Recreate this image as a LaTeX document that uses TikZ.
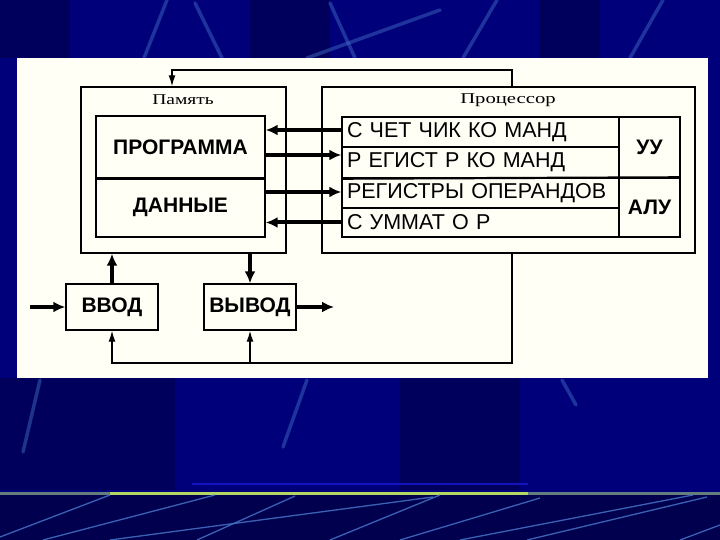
\documentclass[tikz,border=0pt]{standalone}
\usepackage{fontspec}
\setmainfont{Liberation Sans}
\newfontfamily\serifcyr{Liberation Serif}
\usetikzlibrary{arrows.meta}
\definecolor{navy}{RGB}{0,0,122}
\definecolor{navydark}{RGB}{0,0,92}
\definecolor{navybottom}{RGB}{0,0,78}
\definecolor{streak}{RGB}{70,115,200}
\definecolor{cream}{RGB}{255,255,246}
\definecolor{lime}{RGB}{180,215,100}
\definecolor{limegrey}{RGB}{100,125,125}
\definecolor{bluebar}{RGB}{20,20,190}
\begin{document}
\begin{tikzpicture}[x=1pt,y=-1pt,
  box/.style={draw=black, line width=1.4pt, inner sep=0pt, anchor=center},
  rowbox/.style={box, minimum height=#1, text width=267pt, inner xsep=5pt, align=left,
     font=\fontsize{21.5}{21.5}\selectfont},
  boldtxt/.style={font=\fontsize{21}{21}\selectfont\bfseries},
  bigarr/.style={line width=4pt, -{Latex[length=12pt,width=11pt]}},
  thinarr/.style={line width=1.4pt, -{Latex[length=11pt,width=7pt]}},
  title/.style={font=\serifcyr\fontsize{15}{15}\selectfont},
  streakline/.style={streak, line width=3.5pt, opacity=0.45, line cap=round},
  diag/.style={streak, line width=1.3pt, opacity=0.85}
]
\useasboundingbox (0,0) rectangle (720,540);
% background
\fill[navy] (0,0) rectangle (720,540);
\fill[navydark] (0,0) rectangle (70,58);
\fill[navydark] (250,0) rectangle (330,58);
\fill[navydark] (540,0) rectangle (600,58);
\fill[navydark] (0,378) rectangle (175,490);
\fill[navydark] (400,378) rectangle (520,490);
\fill[navybottom] (0,494) rectangle (720,540);
% top streaks
\draw[streakline] (144,58) -- (167,0);
\draw[streakline] (222,58) -- (195,3);
\draw[streakline] (330,3) -- (355,58);
\draw[streakline] (307,58) -- (440,10);
\draw[streakline] (463,58) -- (497,0);
\draw[streakline] (630,58) -- (663,0);
% lower streaks
\draw[streakline] (40,380) -- (23,452);
\draw[streakline] (307,380) -- (283,447);
\draw[streakline] (562,380) -- (576,405);
% green line
\draw[bluebar, line width=2pt] (192,484) -- (528,484);
\draw[limegrey, line width=3pt] (0,493) -- (720,493);
\draw[lime, line width=3pt] (110,493) -- (528,493);
% bottom diagonals
\draw[diag] (0,537) -- (110,495);
\draw[diag] (43,540) -- (215,495);
\draw[diag] (110,540) -- (433,497);
\draw[diag] (197,540) -- (295,496);
\draw[diag] (330,540) -- (440,495);
\draw[diag] (400,540) -- (540,498);
\draw[diag] (460,540) -- (693,495);
\draw[diag] (527,540) -- (707,497);
\draw[diag] (680,540) -- (720,525);
% panel
\fill[cream] (17,58) rectangle (708,378);

% memory
\node[box, minimum width=205pt, minimum height=166pt] (mem) at (183.5,170) {};
\node[title] (memt) at (183,100) {\scalebox{1.3}[1]{Память}};
\node[box, boldtxt, minimum width=169pt, minimum height=62pt] (prog) at (180.5,147) {ПРОГРАММА};
\node[box, boldtxt, minimum width=169pt, minimum height=59pt] (data) at (180.5,207.5) {ДАННЫЕ};
\draw[line width=2.2pt] (prog.south west) -- (prog.south east);

% processor
\node[box, minimum width=373pt, minimum height=166pt] (proc) at (508.5,170) {};
\node[title] (proct) at (508,100) {\scalebox{1.38}[1]{Процессор}};
\node[rowbox=30pt] (r1) at (480.5,132) {С ЧЕТ ЧИК КО МАНД};
\node[rowbox=31pt] (r2) at (480.5,162.5) {Р ЕГИСТ Р КО МАНД};
\node[rowbox=30pt] (r3) at (480.5,193) {РЕГИСТРЫ ОПЕРАНДОВ};
\node[rowbox=29pt] (r4) at (480.5,222.5) {С УММАТ О Р};
\node[box, boldtxt, minimum width=61pt, minimum height=61pt] (uu) at (649.5,147.5) {УУ};
\node[box, boldtxt, minimum width=61pt, minimum height=59pt] (alu) at (649.5,207.5) {АЛУ};
\draw[line width=2.2pt] (r2.south west) -- (alu.north east);

% memory <-> processor
\draw[bigarr] ([yshift=2pt]r1.west) -- ([yshift=2pt]r1.west -| prog.east);
\draw[bigarr] ([yshift=7.5pt]r2.west -| prog.east) -- ([yshift=7.5pt]r2.west);
\draw[bigarr] ([yshift=1pt]r3.west -| data.east) -- ([yshift=1pt]r3.west);
\draw[bigarr] (r4.west) -- (r4.west -| data.east);

% IO
\node[box, boldtxt, minimum width=92pt, minimum height=46pt] (in) at (112,307) {ВВОД};
\node[box, boldtxt, minimum width=92pt, minimum height=46pt] (out) at (250,307) {ВЫВОД};
\coordinate (inL) at (30,307);
\coordinate (outR) at (334,307);
\draw[bigarr] (inL) -- (in.west);
\draw[bigarr] (out.east) -- (outR);
\draw[bigarr] (in.north) -- (in.north |- mem.south);
\draw[bigarr] (out.north |- mem.south) -- (out.north);

% control lines
\coordinate (tr) at (512,70);
\coordinate (tl) at (172,70);
\coordinate (br) at (512,363);
\draw[thinarr] (proc.north -| tr) -- (tr) -- (tl) -- (mem.north -| tl);
\draw[thinarr] (proc.south -| br) -- (br) -- (br -| in.south) -- (in.south);
\draw[thinarr] (br -| out.south) -- (out.south);
\end{tikzpicture}
\end{document}
